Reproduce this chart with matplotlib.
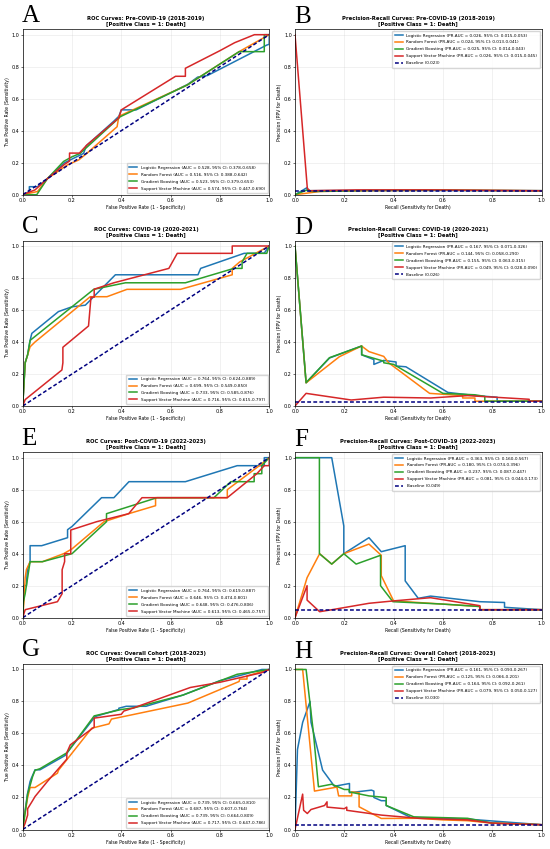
import matplotlib
matplotlib.use('Agg')
import matplotlib.pyplot as plt

# Models and colours
models = ['Logistic Regression', 'Random Forest', 'Gradient Boosting', 'Support Vector Machine']
colors = ['#1f77b4', '#ff7f0e', '#2ca02c', '#d62728']
periods = ['Pre-COVID-19 (2018-2019)', 'COVID-19 (2020-2021)',
           'Post-COVID-19 (2022-2023)', 'Overall Cohort (2018-2023)']
roc_letters = ['A', 'C', 'E', 'G']
pr_letters = ['B', 'D', 'F', 'H']

# ---- ROC curves (FPR, TPR) ----
a_lr = [(0, 0), (0.027, 0.02), (0.027, 0.05), (0.06, 0.05), (0.1, 0.1), (0.17, 0.2), (0.247, 0.258),
        (0.258, 0.306), (0.37, 0.46), (0.39, 0.49), (0.40, 0.53), (0.46, 0.53), (0.67, 0.69),
        (0.71, 0.735), (0.75, 0.745), (0.99, 0.935), (1.0, 0.94), (1.0, 1.0)]
a_rf = [(0, 0), (0.06, 0.02), (0.1, 0.1), (0.18, 0.185), (0.227, 0.217), (0.26, 0.258), (0.383, 0.425),
        (0.39, 0.49), (0.667, 0.685), (0.878, 0.894), (1.0, 1.0)]
a_gb = [(0, 0), (0.057, 0), (0.1, 0.1), (0.166, 0.208), (0.2, 0.237), (0.233, 0.258), (0.396, 0.4875),
        (0.667, 0.685), (0.878, 0.894), (0.98, 0.894), (0.98, 1.0), (1, 1)]
a_svm = [(0, 0), (0.05, 0.03), (0.1, 0.1), (0.17, 0.19), (0.19, 0.21), (0.19, 0.26), (0.23, 0.26),
         (0.26, 0.31), (0.39, 0.48), (0.40, 0.53), (0.62, 0.74), (0.66, 0.74), (0.66, 0.79),
         (0.80, 0.90), (0.86, 0.95), (0.94, 1.0), (1.0, 1.0)]

c_lr = [(0, 0), (0.01, 0.27), (0.02, 0.32), (0.03, 0.41), (0.037, 0.454), (0.145, 0.59), (0.2, 0.62),
        (0.254, 0.63), (0.376, 0.82), (0.711, 0.82), (0.722, 0.86), (0.898, 0.954), (0.98, 0.955), (1.0, 1.0)]
c_rf = [(0, 0), (0.01, 0.27), (0.03, 0.37), (0.05, 0.4), (0.274, 0.683), (0.342, 0.683), (0.423, 0.729),
        (0.64, 0.729), (0.85, 0.82), (0.85, 0.86), (0.88, 0.9), (1.0, 1.0)]
c_gb = [(0, 0), (0.01, 0.27), (0.02, 0.32), (0.03, 0.41), (0.288, 0.729), (0.417, 0.77), (0.66, 0.77),
        (0.857, 0.86), (0.89, 0.86), (0.89, 0.9), (0.91, 0.954), (0.99, 0.954), (1.0, 1.0)]
c_svm = [(0, 0), (0.01, 0.04), (0.159, 0.225), (0.163, 0.27), (0.163, 0.367), (0.267, 0.5), (0.277, 0.68),
         (0.29, 0.68), (0.29, 0.73), (0.37, 0.77), (0.593, 0.86), (0.627, 0.954), (0.85, 0.954),
         (0.85, 1.0), (1.0, 1.0)]

e_lr = [(0, 0), (0, 0.15), (0.005, 0.2), (0.015, 0.2), (0.019, 0.3), (0.03, 0.35), (0.03, 0.45),
        (0.077, 0.45), (0.182, 0.5), (0.182, 0.55), (0.2, 0.57), (0.32, 0.75), (0.37, 0.75),
        (0.431, 0.85), (0.66, 0.85), (0.87, 0.95), (0.98, 0.95), (0.98, 1.0), (1, 1)]
e_rf = [(0, 0), (0.005, 0.1), (0.01, 0.25), (0.015, 0.3), (0.03, 0.35), (0.08, 0.35), (0.166, 0.4),
        (0.2, 0.43), (0.33, 0.6), (0.43, 0.65), (0.539, 0.7), (0.539, 0.75), (0.75, 0.75),
        (0.83, 0.75), (0.83, 0.8), (0.96, 0.95), (1.0, 1.0)]
e_gb = [(0, 0), (0.003, 0.1), (0.01, 0.15), (0.02, 0.25), (0.03, 0.35), (0.08, 0.35), (0.2, 0.4),
        (0.34, 0.6), (0.34, 0.65), (0.545, 0.75), (0.776, 0.75), (0.81, 0.8), (0.844, 0.85),
        (0.939, 0.85), (0.939, 0.9), (0.97, 0.9), (0.97, 0.95), (1, 1)]
e_svm = [(0, 0), (0.01, 0.05), (0.141, 0.1), (0.16, 0.15), (0.16, 0.3), (0.17, 0.35), (0.17, 0.4),
         (0.195, 0.4), (0.195, 0.548), (0.3, 0.6), (0.43, 0.65), (0.484, 0.75), (0.83, 0.75),
         (0.95, 0.9), (0.98, 0.95), (1, 0.95), (1, 1)]

g_lr = [(0, 0), (0, 0.05), (0.01, 0.12), (0.019, 0.22), (0.03, 0.3), (0.035, 0.32), (0.05, 0.373),
        (0.07, 0.373), (0.172, 0.4625), (0.2, 0.52), (0.294, 0.706), (0.39, 0.75), (0.39, 0.758),
        (0.42, 0.77), (0.5, 0.77), (0.65, 0.84), (0.8, 0.93), (0.9, 0.97), (0.97, 1.0), (1, 1)]
g_rf = [(0, 0), (0.005, 0.06), (0.02, 0.2), (0.03, 0.2625), (0.05, 0.2625), (0.141, 0.352),
        (0.145, 0.37), (0.28, 0.633), (0.35, 0.66), (0.36, 0.69), (0.67, 0.79), (0.878, 0.925),
        (0.88, 0.94), (0.91, 0.94), (0.91, 0.96), (1, 1)]
g_gb = [(0, 0), (0.005, 0.05), (0.02, 0.22), (0.04, 0.33), (0.05, 0.37), (0.07, 0.38), (0.18, 0.48),
        (0.29, 0.71), (0.4, 0.75), (0.45, 0.76), (0.65, 0.84), (0.87, 0.97), (1, 1)]
g_svm = [(0, 0), (0.01, 0.04), (0.02, 0.09), (0.02, 0.13), (0.04, 0.18), (0.05, 0.206), (0.1, 0.3),
         (0.179, 0.44), (0.179, 0.48), (0.193, 0.529), (0.29, 0.64), (0.29, 0.696), (0.4, 0.72),
         (0.41, 0.74), (0.45, 0.76), (0.68, 0.8875), (0.8, 0.92), (0.97, 0.98), (1, 1)]

# ---- PR curves (Recall, Precision) ----
b_lr = [(0, 0), (0.05, 0.045), (0.05, 0.025), (0.3, 0.027), (0.6, 0.026), (1.0, 0.025)]
b_rf = [(0, 0), (0.05, 0.01), (0.1, 0.02), (0.3, 0.025), (0.6, 0.028), (1.0, 0.024)]
b_gb = [(0, 0), (0.05, 0.03), (0.07, 0.02), (0.3, 0.026), (0.6, 0.028), (1.0, 0.025)]
b_svm = [(0, 1.0), (0.05, 0.04), (0.06, 0.025), (0.25, 0.03), (0.55, 0.03), (1.0, 0.025)]

d_lr = [(0, 1.0), (0.045, 0.145), (0.14, 0.3), (0.27, 0.375), (0.27, 0.32), (0.32, 0.29), (0.32, 0.26),
        (0.36, 0.285), (0.41, 0.275), (0.41, 0.25), (0.45, 0.245), (0.62, 0.085), (0.73, 0.065),
        (0.82, 0.055), (0.82, 0.03), (1.0, 0.03)]
d_rf = [(0, 1.0), (0.045, 0.145), (0.18, 0.308), (0.27, 0.375), (0.3, 0.34), (0.36, 0.31), (0.38, 0.27),
        (0.546, 0.079), (0.68, 0.065), (0.68, 0.05), (0.73, 0.05), (0.73, 0.03), (1.0, 0.03)]
d_gb = [(0, 1.0), (0.045, 0.146), (0.14, 0.302), (0.271, 0.375), (0.271, 0.32), (0.36, 0.28),
        (0.36, 0.27), (0.4, 0.26), (0.6, 0.079), (0.73, 0.07), (0.77, 0.06), (0.77, 0.03), (1.0, 0.03)]
d_svm = [(0, 0), (0.045, 0.079), (0.228, 0.0375), (0.36, 0.055), (0.55, 0.05), (0.7, 0.065),
         (0.95, 0.042), (0.95, 0.03), (1.0, 0.03)]

f_lr = [(0, 1.0), (0.149, 1.0), (0.198, 0.573), (0.198, 0.4), (0.3, 0.5), (0.35, 0.4125), (0.447, 0.45),
        (0.447, 0.23), (0.5, 0.121), (0.55, 0.135), (0.75, 0.1), (0.85, 0.095), (0.85, 0.065),
        (0.95, 0.055), (1.0, 0.05)]
f_rf = [(0, 0), (0.049, 0.25), (0.1, 0.4), (0.149, 0.335), (0.198, 0.4), (0.3, 0.46), (0.35, 0.39),
        (0.35, 0.2625), (0.4, 0.105), (0.55, 0.09), (0.75, 0.07), (0.75, 0.05), (1.0, 0.05)]
f_gb = [(0, 1.0), (0.099, 1.0), (0.099, 0.4), (0.149, 0.335), (0.198, 0.4), (0.248, 0.335),
        (0.347, 0.39), (0.347, 0.2), (0.397, 0.1), (0.6, 0.085), (0.75, 0.07), (0.75, 0.05), (1.0, 0.05)]
f_svm = [(0, 0), (0.049, 0.2), (0.049, 0.11), (0.1, 0.0375), (0.15, 0.05), (0.3, 0.09), (0.4, 0.105),
         (0.55, 0.125), (0.75, 0.075), (0.75, 0.05), (1.0, 0.05)]

h_lr = [(0, 0), (0.01, 0.5), (0.031, 0.669), (0.061, 0.8), (0.065, 0.67), (0.112, 0.371), (0.16, 0.27),
        (0.221, 0.2875), (0.221, 0.23), (0.31, 0.246), (0.32, 0.24), (0.32, 0.2), (0.35, 0.18),
        (0.37, 0.18), (0.37, 0.15), (0.47, 0.075), (0.7, 0.065), (1.0, 0.03)]
h_rf = [(0, 1.0), (0.031, 1.0), (0.079, 0.24), (0.17, 0.265), (0.177, 0.21), (0.23, 0.21),
        (0.23, 0.235), (0.26, 0.23), (0.26, 0.142), (0.35, 0.069), (0.5, 0.07), (0.6, 0.06),
        (0.7, 0.055), (0.8, 0.04), (1.0, 0.03)]
h_gb = [(0, 1.0), (0.045, 1.0), (0.075, 0.6), (0.095, 0.267), (0.149, 0.283), (0.2, 0.25),
        (0.22, 0.25), (0.22, 0.235), (0.3, 0.21), (0.37, 0.2), (0.37, 0.15), (0.482, 0.079),
        (0.7, 0.07), (0.8, 0.04), (1.0, 0.03)]
h_svm = [(0, 0), (0.031, 0.221), (0.035, 0.12), (0.05, 0.1), (0.065, 0.125), (0.12, 0.15),
         (0.13, 0.173), (0.13, 0.14), (0.2, 0.13), (0.21, 0.14), (0.21, 0.12), (0.35, 0.09),
         (0.5, 0.07), (0.7, 0.06), (0.8, 0.04), (1.0, 0.03)]

roc_curves = [[a_lr, a_rf, a_gb, a_svm], [c_lr, c_rf, c_gb, c_svm],
              [e_lr, e_rf, e_gb, e_svm], [g_lr, g_rf, g_gb, g_svm]]
pr_curves = [[b_lr, b_rf, b_gb, b_svm], [d_lr, d_rf, d_gb, d_svm],
             [f_lr, f_rf, f_gb, f_svm], [h_lr, h_rf, h_gb, h_svm]]

# ---- legend numbers ----
roc_auc = [[0.528, 0.516, 0.523, 0.574], [0.764, 0.699, 0.733, 0.716],
           [0.764, 0.646, 0.648, 0.613], [0.739, 0.687, 0.739, 0.717]]
roc_ci = [[(0.378, 0.658), (0.388, 0.642), (0.379, 0.653), (0.447, 0.690)],
          [(0.624, 0.889), (0.549, 0.850), (0.585, 0.876), (0.615, 0.797)],
          [(0.619, 0.887), (0.474, 0.801), (0.476, 0.806), (0.465, 0.757)],
          [(0.665, 0.810), (0.607, 0.764), (0.664, 0.809), (0.647, 0.786)]]
pr_auc = [[0.026, 0.024, 0.025, 0.026], [0.167, 0.144, 0.155, 0.049],
          [0.363, 0.180, 0.237, 0.081], [0.161, 0.125, 0.164, 0.079]]
pr_ci = [[(0.015, 0.053), (0.013, 0.041), (0.014, 0.043), (0.015, 0.045)],
         [(0.071, 0.326), (0.058, 0.290), (0.063, 0.315), (0.028, 0.090)],
         [(0.160, 0.567), (0.074, 0.396), (0.087, 0.447), (0.044, 0.173)],
         [(0.093, 0.267), (0.066, 0.201), (0.092, 0.261), (0.050, 0.127)]]
baselines = [0.023, 0.026, 0.049, 0.030]

# ---- layout ----
W, H = 550, 849
fig = plt.figure(figsize=(W / 100, H / 100), dpi=100)
row_bottom_px = [194.7, 406.0, 617.7, 829.5]   # pixel row of axes bottom edge
ax_h = 165.3
left_px = [22.7, 295.0]
ax_w = 246.5

TITLE_FS = 3.8
LABEL_FS = 3.3
TICK_FS = 3.5
LEG_FS = 3.0
LW = 1.1


def style_axes(ax):
    ax.tick_params(labelsize=TICK_FS, length=1.3, width=0.4, pad=1)
    for s in ax.spines.values():
        s.set_linewidth(0.5)
    ax.grid(True, alpha=0.3, linewidth=0.4)
    ax.set_xlim(0.0, 1.0)
    ax.set_ylim(0.0, 1.033)


def make_axes(col, row):
    b = (H - row_bottom_px[row]) / H
    return fig.add_axes([left_px[col] / W, b, ax_w / W, ax_h / H])


legend_kw = dict(fontsize=LEG_FS, handlelength=2, borderpad=0.6, labelspacing=0.7,
                 handletextpad=0.8, borderaxespad=0.4)

for r in range(4):
    # ROC
    ax = make_axes(0, r)
    for m in range(4):
        xs = [p[0] for p in roc_curves[r][m]]
        ys = [p[1] for p in roc_curves[r][m]]
        lo, hi = roc_ci[r][m]
        ax.plot(xs, ys, color=colors[m], lw=LW,
                label=f'{models[m]} (AUC = {roc_auc[r][m]:.3f}, 95% CI: {lo:.3f}-{hi:.3f})')
    ax.plot([0, 1], [0, 1], color='navy', lw=LW, linestyle='--', dashes=(2.5, 1.5))
    style_axes(ax)
    ax.set_xlabel('False Positive Rate (1 - Specificity)', fontsize=LABEL_FS, labelpad=1.5)
    ax.set_ylabel('True Positive Rate (Sensitivity)', fontsize=LABEL_FS, labelpad=1.5)
    ax.set_title(f'ROC Curves: {periods[r]}\n[Positive Class = 1: Death]',
                 fontsize=TITLE_FS, fontweight='bold', pad=3, linespacing=1.05)
    ax.legend(loc='lower right', **legend_kw)
    fig.text(left_px[0] / W - 0.002, 1 - (row_bottom_px[r] - 173) / H, roc_letters[r],
             fontsize=18, family='Liberation Serif', va='baseline', ha='left')

    # PR
    ax = make_axes(1, r)
    for m in range(4):
        xs = [p[0] for p in pr_curves[r][m]]
        ys = [p[1] for p in pr_curves[r][m]]
        lo, hi = pr_ci[r][m]
        ax.plot(xs, ys, color=colors[m], lw=LW,
                label=f'{models[m]} (PR-AUC = {pr_auc[r][m]:.3f}, 95% CI: {lo:.3f}-{hi:.3f})')
    ax.axhline(baselines[r], color='navy', lw=LW, linestyle='--', dashes=(2.5, 1.5),
               label=f'Baseline ({baselines[r]:.3f})')
    style_axes(ax)
    ax.set_xlabel('Recall (Sensitivity for Death)', fontsize=LABEL_FS, labelpad=1.5)
    ax.set_ylabel('Precision (PPV for Death)', fontsize=LABEL_FS, labelpad=1.5)
    ax.set_title(f'Precision-Recall Curves: {periods[r]}\n[Positive Class = 1: Death]',
                 fontsize=TITLE_FS, fontweight='bold', pad=3, linespacing=1.05)
    ax.legend(loc='upper right', **legend_kw)
    fig.text(left_px[1] / W - 0.002, 1 - (row_bottom_px[r] - 172) / H, pr_letters[r],
             fontsize=18, family='Liberation Serif', va='baseline', ha='left')

fig.savefig('out.png', dpi=100)
